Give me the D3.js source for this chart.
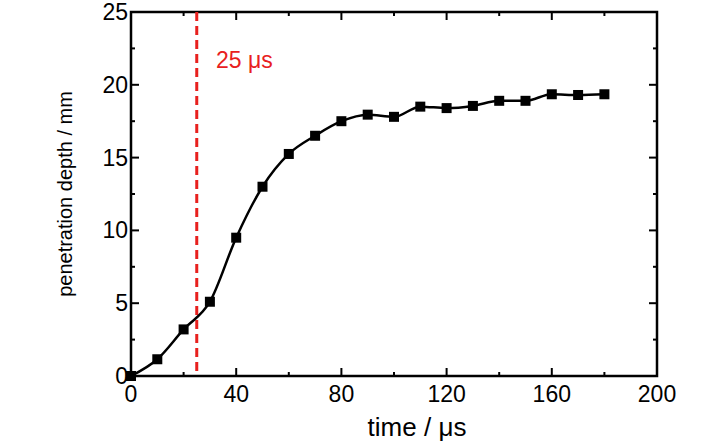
<!DOCTYPE html><html><head><meta charset="utf-8"><script src="https://cdn.jsdelivr.net/npm/d3@7"></script>
<style>body{margin:0;background:#fff}text{font-family:"Liberation Sans Narrow","Liberation Sans",Arial,sans-serif}</style></head><body>
<svg id="c" width="728" height="442"></svg>
<script>
const times=[0,10,20,30,40,50,60,70,80,90,100,110,120,130,140,150,160,170,180];
const depth=[0,1.15,3.2,5.1,9.5,13.0,15.25,16.5,17.5,17.95,17.8,18.5,18.4,18.55,18.9,18.9,19.35,19.3,19.35];
const xTicks=[0,40,80,120,160,200];
const yTicks=[0,5,10,15,20,25];
const marker=25;
const svg=d3.select("#c");
const L=131,R=657,T=12,B=376;
const x=d3.scaleLinear().domain([0,200]).range([L,R]);
const y=d3.scaleLinear().domain([0,25]).range([B,T]);
const g=svg.append("g");
const xs=d3.range(0,201,20), ys=d3.range(0,25.1,2.5);
xs.forEach(v=>{const l=xTicks.includes(v)?8:4;
 g.append("line").attr("x1",x(v)).attr("x2",x(v)).attr("y1",B).attr("y2",B-l).attr("stroke","#000").attr("stroke-width",2);
 g.append("line").attr("x1",x(v)).attr("x2",x(v)).attr("y1",T).attr("y2",T+l).attr("stroke","#000").attr("stroke-width",2);});
ys.forEach(v=>{const l=yTicks.includes(v)?8:4;
 g.append("line").attr("y1",y(v)).attr("y2",y(v)).attr("x1",L).attr("x2",L+l).attr("stroke","#000").attr("stroke-width",2);
 g.append("line").attr("y1",y(v)).attr("y2",y(v)).attr("x1",R).attr("x2",R-l).attr("stroke","#000").attr("stroke-width",2);});
g.append("rect").attr("x",L).attr("y",T).attr("width",R-L).attr("height",B-T).attr("fill","none").attr("stroke","#000").attr("stroke-width",2.5);
xTicks.forEach(v=>g.append("text").attr("x",x(v)).attr("y",B+26).attr("text-anchor","middle").attr("font-size",23).text(v));
yTicks.forEach(v=>g.append("text").attr("x",L-3).attr("y",y(v)+8).attr("text-anchor","end").attr("font-size",23).text(v));
svg.append("text").attr("x",417).attr("y",436).attr("text-anchor","middle").attr("font-size",26).text("time / μs");
svg.append("text").attr("transform",`translate(72,${(T+B)/2}) rotate(-90)`).attr("text-anchor","middle").attr("font-size",20).text("penetration depth / mm");
svg.append("line").attr("x1",x(marker)).attr("x2",x(marker)).attr("y1",T).attr("y2",B).attr("stroke","#e8201e").attr("stroke-width",3).attr("stroke-dasharray","9,5");
svg.append("text").attr("x",216).attr("y",68).attr("fill","#e8201e").attr("font-size",23).text("25 μs");
const pts=times.map((t,i)=>[t,depth[i]]);
svg.append("path").datum(pts).attr("fill","none").attr("stroke","#000").attr("stroke-width",2.5)
 .attr("d",d3.line().x(d=>x(d[0])).y(d=>y(d[1])).curve(d3.curveMonotoneX));
svg.selectAll("rect.m").data(pts).enter().append("rect").attr("class","m")
 .attr("x",d=>x(d[0])-5).attr("y",d=>y(d[1])-5).attr("width",10).attr("height",10).attr("fill","#000");
</script></body></html>
